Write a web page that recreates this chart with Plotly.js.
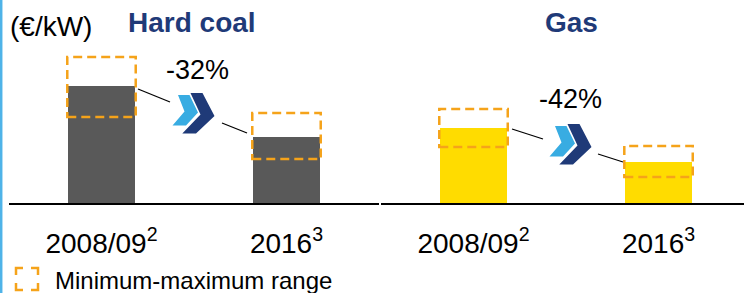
<!DOCTYPE html>
<html>
<head>
<meta charset="utf-8">
<script src="https://cdn.plot.ly/plotly-3.0.1.min.js"></script>
<style>html,body{margin:0;padding:0;background:#fff;}#chart{width:744px;height:293px;}</style>
</head>
<body>
<div id="chart"></div>
<script>
// ---- data (€/kW in arbitrary chart units) ----
const categories = ['2008/09', '2016'];
const tickLabels = ['2008/09<sup>2</sup>', '2016<sup>3</sup>'];
const coalValues = [117, 66];
const coalMin = [86, 44];
const coalMax = [146, 90];
const gasValues = [75, 41];
const gasMin = [56, 26];
const gasMax = [94, 57];
const panelTitles = ['Hard coal', 'Gas'];
const changeLabels = ['-32%', '-42%'];
const unitLabel = '(€/kW)';
const legendLabel = 'Minimum-maximum range';

// ---- styling / geometry ----
const W = 744, H = 293, PLOT_H = 203;
const FONT = 'Arial, "Liberation Sans", sans-serif';
const NAVY = '#1F3A78';
const LIGHT_BLUE = '#38ACE2';
const ORANGE = '#F5A31A';
const px = x => x / W;
const py = y => 1 - y / PLOT_H;

const traces = [
  {type: 'bar', x: categories, y: coalValues, xaxis: 'x', yaxis: 'y',
   marker: {color: '#595959'}, width: 0.36, hoverinfo: 'none'},
  {type: 'bar', x: categories, y: gasValues, xaxis: 'x2', yaxis: 'y2',
   marker: {color: '#FFDC00'}, width: 0.36, hoverinfo: 'none'}
];

const shapes = [];
function rangeBoxes(mins, maxs, xref, yref) {
  mins.forEach((m, i) => {
    shapes.push({type: 'rect', xref: xref, yref: yref,
      x0: i - 0.185, x1: i + 0.185, y0: m, y1: maxs[i],
      line: {color: ORANGE, width: 2.5, dash: '9px,5px'},
      fillcolor: 'rgba(0,0,0,0)', layer: 'above'});
  });
}
rangeBoxes(coalMin, coalMax, 'x', 'y');
rangeBoxes(gasMin, gasMax, 'x2', 'y2');

function pathFrom(points, ox, oy) {
  return points.map((p, i) => (i ? 'L' : 'M') + px(ox + p[0]) + ',' + py(oy + p[1])).join(' ') + ' Z';
}
const lightChevron = [[6,2],[17.5,2],[26,19.5],[14,32.5],[0.5,32.5],[12.5,18.5]];
const darkChevron = [[18.5,0],[30.5,0],[42.5,23],[24,40.5],[10.3,40.5],[28.5,21.5]];
[[172, 93], [549, 124]].forEach(o => {
  shapes.push({type: 'path', xref: 'paper', yref: 'paper', path: pathFrom(lightChevron, o[0], o[1]),
    fillcolor: LIGHT_BLUE, line: {width: 0}});
  shapes.push({type: 'path', xref: 'paper', yref: 'paper', path: pathFrom(darkChevron, o[0], o[1]),
    fillcolor: NAVY, line: {width: 0}});
});
// connector lines
[[138,89,170,102],[222,123,247,133],[512,129,543,139],[598,154,623,162]].forEach(s => {
  shapes.push({type: 'line', xref: 'paper', yref: 'paper', x0: px(s[0]), y0: py(s[1]), x1: px(s[2]), y1: py(s[3]),
    line: {color: '#000', width: 1.3}});
});
// left light-blue border
shapes.push({type: 'line', xref: 'paper', yref: 'paper', x0: px(1.2), x1: px(1.2), y0: py(0), y1: py(H),
  line: {color: '#4FB3E8', width: 2.5}});
// legend symbol (dashed corner brackets)
(function () {
  const x0 = 16, y0 = 268, x1 = 38, y1 = 290, a = 7;
  const segs = [
    [[x0, y0 + a], [x0, y0], [x0 + a, y0]],
    [[x1 - a, y0], [x1, y0], [x1, y0 + a]],
    [[x1, y1 - a], [x1, y1], [x1 - a, y1]],
    [[x0 + a, y1], [x0, y1], [x0, y1 - a]]
  ];
  const path = segs.map(s => s.map((p, i) => (i ? 'L' : 'M') + px(p[0]) + ',' + py(p[1])).join(' ')).join(' ');
  shapes.push({type: 'path', xref: 'paper', yref: 'paper', path: path, line: {color: ORANGE, width: 2.5}});
})();

const annotations = [
  {text: unitLabel, x: px(8), y: py(27), xanchor: 'left', yanchor: 'middle',
   font: {family: FONT, size: 28, color: '#000'}},
  {text: '<b>' + panelTitles[0] + '</b>', x: px(192), y: py(23), xanchor: 'center', yanchor: 'middle',
   font: {family: FONT, size: 28, color: NAVY}},
  {text: '<b>' + panelTitles[1] + '</b>', x: px(571), y: py(23), xanchor: 'center', yanchor: 'middle',
   font: {family: FONT, size: 28, color: NAVY}},
  {text: changeLabels[0], x: px(197), y: py(70), xanchor: 'center', yanchor: 'middle',
   font: {family: FONT, size: 27, color: '#000'}},
  {text: changeLabels[1], x: px(570), y: py(99), xanchor: 'center', yanchor: 'middle',
   font: {family: FONT, size: 27, color: '#000'}},
  {text: legendLabel, x: px(53), y: py(280), xanchor: 'left', yanchor: 'middle',
   font: {family: FONT, size: 24, color: '#000'}}
].map(a => Object.assign({xref: 'paper', yref: 'paper', showarrow: false}, a));

const axisCommon = {
  type: 'category', showline: true, linecolor: '#000', linewidth: 2, ticks: '',
  showgrid: false, zeroline: false, fixedrange: true,
  tickvals: categories, ticktext: tickLabels, ticklabelstandoff: 14,
  tickfont: {family: FONT, size: 28, color: '#000'}
};
const layout = {
  width: W, height: H,
  margin: {l: 0, r: 0, t: 0, b: H - PLOT_H, pad: 0},
  paper_bgcolor: '#fff', plot_bgcolor: '#fff',
  showlegend: false, bargap: 0,
  xaxis: Object.assign({}, axisCommon, {domain: [px(9), px(379)], range: [-0.5, 1.5], anchor: 'y'}),
  xaxis2: Object.assign({}, axisCommon, {domain: [px(381), 1], range: [-0.5, 1.462], anchor: 'y2'}),
  yaxis: {range: [0, PLOT_H], visible: false, fixedrange: true, domain: [0, 1]},
  yaxis2: {range: [0, PLOT_H], visible: false, fixedrange: true, anchor: 'x2', domain: [0, 1]},
  shapes: shapes,
  annotations: annotations
};

Plotly.newPlot('chart', traces, layout, {staticPlot: true, displayModeBar: false});
</script>
</body>
</html>
